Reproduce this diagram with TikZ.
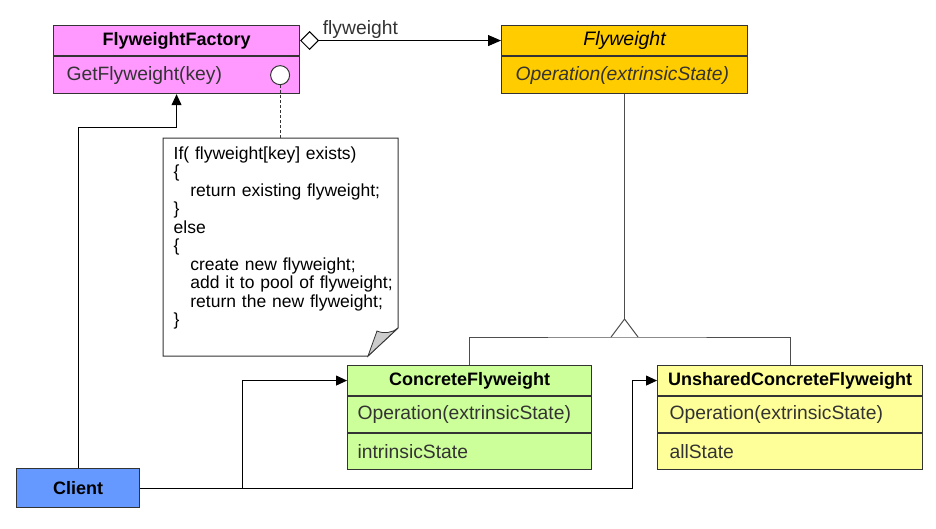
\documentclass[tikz,border=0pt]{standalone}
\usepackage{fontspec}
\setmainfont{Liberation Sans}
\usetikzlibrary{arrows.meta, positioning}
\definecolor{factorypink}{HTML}{FF99FF}
\definecolor{flyweightgold}{HTML}{FFCC00}
\definecolor{concretegreen}{HTML}{CCFF99}
\definecolor{unsharedyellow}{HTML}{FFFF99}
\definecolor{clientblue}{HTML}{6699FF}
\definecolor{boxline}{HTML}{333333}
\definecolor{membertext}{HTML}{333333}
\definecolor{inheritline}{HTML}{4D4D4D}
\definecolor{foldgray}{HTML}{CCCCCC}
\newcommand{\headfont}{\bfseries\fontsize{18}{20}\selectfont}
\newcommand{\memberfont}{\fontsize{19.3}{22}\selectfont}
\newcommand{\notefont}{\fontsize{17.5}{18.5}\selectfont}
\tikzset{
  box/.style={draw=boxline, line width=1.1pt, inner sep=0pt, anchor=north west},
  head/.style={box, fill=#1, font=\headfont, minimum height=30pt},
  member/.style={box, fill=#1, font=\memberfont, text=membertext, align=left,
    inner xsep=10pt, minimum height=36pt},
  knob/.style={circle, draw=boxline, fill=white, line width=1pt, minimum size=19pt, inner sep=0pt},
  assoc/.style={draw=black, line width=1pt, -{Triangle[length=11pt, width=10pt]}},
  aggr/.style={draw=black, line width=1pt,
    {Diamond[open, length=19pt, width=19pt]}-{Triangle[length=13pt, width=11pt]}},
  inherit/.style={draw=inheritline, line width=1pt},
  notebox/.style={draw=boxline, line width=1pt, fill=white}
}

\begin{document}
\begin{tikzpicture}[x=1pt, y=-1pt]
  \useasboundingbox (0,0) rectangle (936,528);
  % classes
  \node[head=factorypink, minimum width=246pt] (factory) at (53,25) {FlyweightFactory};
  \node[member=factorypink, text width=220pt, inner xsep=13pt, minimum height=37pt] (factoryop) at (factory.south west) {GetFlyweight(key)};
  \node[knob, left=10pt of factoryop.east] (knob) {};
  \node[head=flyweightgold, minimum width=246pt, font=\itshape\fontsize{19.5}{22}\selectfont] (flyweight) at (501,25) {Flyweight};
  \node[member=flyweightgold, text width=218pt, inner xsep=14pt, minimum height=37pt, font=\itshape\memberfont] (flyweightop) at (flyweight.south west) {Operation(extrinsicState)};
  \node[head=concretegreen, minimum width=244pt] (concrete) at (347,365) {ConcreteFlyweight};
  \node[member=concretegreen, text width=224pt] (concreteop) at (concrete.south west) {Operation(extrinsicState)};
  \node[member=concretegreen, text width=224pt] (concretestate) at (concreteop.south west) {intrinsicState};
  \node[head=unsharedyellow, minimum width=265pt] (unshared) at (657,365) {UnsharedConcreteFlyweight};
  \node[member=unsharedyellow, text width=241pt, inner xsep=12pt] (unsharedop) at (unshared.south west) {Operation(extrinsicState)};
  \node[member=unsharedyellow, text width=241pt, inner xsep=12pt] (unsharedstate) at (unsharedop.south west) {allState};
  \node[head=clientblue, minimum width=123pt, minimum height=39pt] (client) at (16,468) {Client};
  % note with folded corner
  \draw[notebox] (163,138) -- (398,138) -- (398,328) -- (368,356) -- (163,356) -- cycle;
  \draw[draw=boxline, line width=0.8pt, fill=foldgray] (368,356) -- (377,331) .. controls (384,334) and (392,333) .. (398,328) -- cycle;
  \node[anchor=north west, font=\notefont, align=left, inner xsep=10.5pt, inner ysep=8.5pt, text width=220pt] (note) at (163,138)
    {If( flyweight[key] exists)\\ \{\\ \hspace*{16.7pt}return existing flyweight;\\ \}\\ else\\ \{\\
     \hspace*{16.7pt}create new flyweight;\\ \hspace*{16.7pt}add it to pool of flyweight;\\ \hspace*{16.7pt}return the new flyweight;\\ \}};
  \draw[draw=boxline, line width=1pt, dash pattern=on 3pt off 2pt] (knob.south) -- (knob.south |- note.north);
  % connectors
  \draw[aggr] (factory.east) -- node[pos=0.3, above, inner sep=1.5pt, font=\memberfont, text=membertext] (role) {flyweight} (flyweight.west);
  \draw[assoc] (client.north) -- (client.north |- 0,127) -| (factoryop.south);
  \draw[assoc] (client.east) -| ([xshift=-105pt]concrete.west) -- (concrete.west);
  \draw[assoc] (client.east) -| ([xshift=-25pt]unshared.west) -- (unshared.west);
  \coordinate (fork) at (flyweightop.south |- 0,337);
  \draw[inherit] (concrete.north) |- (fork) -| (unshared.north);
  \draw[inherit] (flyweightop.south) -- ([yshift=18pt]fork);
  \draw[inherit, fill=white] ([xshift=-13.5pt]fork) -- ([yshift=18pt]fork) -- ([xshift=13.5pt]fork);
\end{tikzpicture}
\end{document}
